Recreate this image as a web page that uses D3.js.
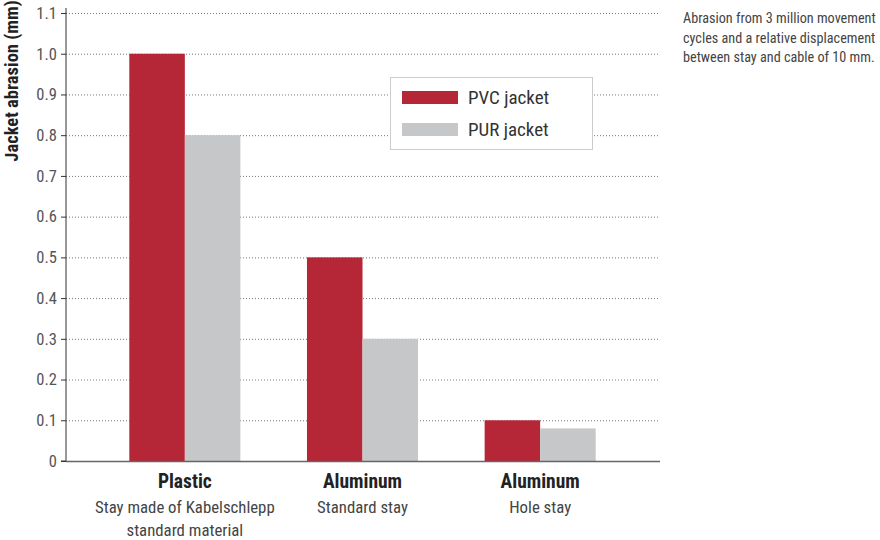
<!DOCTYPE html>
<html><head><meta charset="utf-8">
<script src="https://cdn.jsdelivr.net/npm/d3@7"></script>
<style>body{margin:0;background:#fff;} text{font-family:"Liberation Sans Narrow","Roboto Condensed",Roboto,sans-serif;}</style>
</head><body>
<svg id="c" width="880" height="540"></svg>
<script>
const categories = ["Plastic", "Aluminum", "Aluminum "];
const subtitles = [["Stay made of Kabelschlepp", "standard material"], ["Standard stay"], ["Hole stay"]];
const seriesNames = ["PVC jacket", "PUR jacket"];
const pvcValues = [1.0, 0.5, 0.1];
const purValues = [0.8, 0.3, 0.08];
const yTicks = [0, 0.1, 0.2, 0.3, 0.4, 0.5, 0.6, 0.7, 0.8, 0.9, 1.0, 1.1];
const colors = ["#b52636", "#c6c7c9"];
const note = ["Abrasion from 3 million movement", "cycles and a relative displacement", "between stay and cable of 10 mm."];

const svg = d3.select("#c");
const x0 = 66, x1 = 660, yTop = 13, yBot = 461;
const y = d3.scaleLinear().domain([0, 1.1]).range([yBot, yTop]);
const xb = d3.scaleBand().domain(categories).range([96, 629]).paddingInner(0.375).paddingOuter(0.1875);
const xs = d3.scaleBand().domain(seriesNames).range([0, xb.bandwidth()]);

// grid
svg.append("g").selectAll("line").data(yTicks.filter(d => d > 0)).join("line")
  .attr("x1", x0).attr("x2", x1).attr("y1", d => y(d) + 0.5).attr("y2", d => y(d) + 0.5)
  .attr("stroke", "#777").attr("stroke-width", 1).attr("stroke-dasharray", "1,2");

// bars
const data = categories.map((c, i) => ({c, vals: [pvcValues[i], purValues[i]]}));
const g = svg.append("g");
data.forEach(d => {
  d.vals.forEach((v, j) => {
    g.append("rect").attr("x", xb(d.c) + xs(seriesNames[j])).attr("width", xs.bandwidth())
      .attr("y", y(v)).attr("height", yBot - y(v)).attr("fill", colors[j]);
  });
});

// y axis
const ya = d3.axisLeft(y).tickValues(yTicks).tickSize(5).tickPadding(4)
  .tickFormat(d => d === 0 ? "0" : d3.format(".1f")(d));
const yg = svg.append("g").attr("transform", `translate(${x0},0)`).call(ya);
yg.select(".domain").attr("stroke", "#333").attr("d", `M-5,${yBot}H0V${yTop - 5}`);
yg.selectAll(".tick line").attr("stroke", "#333");
yg.selectAll(".tick text").attr("fill", "#555").attr("font-size", 16.5)
  .style("font-family", '"Liberation Sans Narrow","Roboto Condensed",Roboto,sans-serif');

// x baseline
svg.append("line").attr("x1", x0).attr("x2", x1).attr("y1", yBot + 0.5).attr("y2", yBot + 0.5)
  .attr("stroke", "#666").attr("stroke-width", 1.5);

// y label
svg.append("text").attr("transform", `translate(18,81) rotate(-90)`).attr("text-anchor", "middle")
  .attr("font-size", 18.5).attr("font-weight", "bold").attr("fill", "#222").text("Jacket abrasion (mm)");

// category labels
categories.forEach((c, i) => {
  const cx = xb(c) + xb.bandwidth() / 2;
  svg.append("text").attr("x", cx).attr("y", 488).attr("text-anchor", "middle")
    .attr("font-size", 19.5).attr("font-weight", "bold").attr("fill", "#222").text(c.trim());
  subtitles[i].forEach((s, k) => {
    svg.append("text").attr("x", cx).attr("y", 513 + k * 23).attr("text-anchor", "middle")
      .attr("font-size", 16.8).attr("fill", "#444").text(s);
  });
});

// legend
const lg = svg.append("g");
lg.append("rect").attr("x", 390.5).attr("y", 77.5).attr("width", 202).attr("height", 72)
  .attr("fill", "#fff").attr("stroke", "#ccc").attr("stroke-width", 1);
seriesNames.forEach((n, j) => {
  lg.append("rect").attr("x", 402).attr("y", 91 + j * 32).attr("width", 56).attr("height", 13).attr("fill", colors[j]);
  lg.append("text").attr("x", 468).attr("y", 104 + j * 32).attr("font-size", 19).attr("fill", "#333").text(n);
});

// note
note.forEach((t, k) => {
  svg.append("text").attr("x", 683).attr("y", 23 + k * 19.5).attr("font-size", 14.2).attr("fill", "#444").text(t);
});
</script>
</body></html>
